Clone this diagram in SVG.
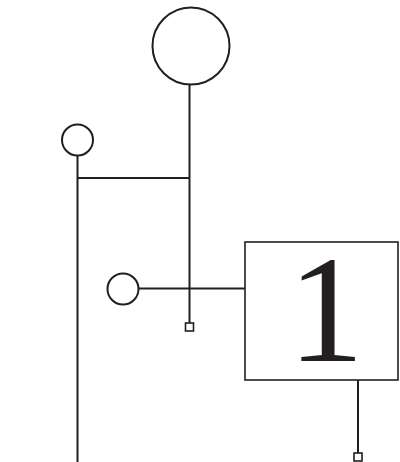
<svg xmlns="http://www.w3.org/2000/svg" width="400" height="462" viewBox="0 0 400 462">
<style>
.s{fill:none;stroke:#231f20;stroke-width:2}
.r{fill:#fff;stroke:#231f20;stroke-width:1.6}
.t{font-family:"Liberation Serif",serif;font-size:152px;fill:#231f20;text-anchor:middle}
</style>
<rect width="400" height="462" fill="#fff"/>
<g id="connectors">
<line class="s" x1="189.5" y1="84" x2="189.5" y2="323"/>
<line class="s" x1="77.5" y1="155.5" x2="77.5" y2="462"/>
<line class="s" x1="77.5" y1="178" x2="189.5" y2="178"/>
<line class="s" x1="138.5" y1="288.5" x2="245" y2="288.5"/>
<line class="s" x1="358" y1="380" x2="358" y2="453"/>
</g>
<g id="big-circle"><circle class="s" cx="191" cy="46" r="38.5"/></g>
<g id="small-circle-top"><circle class="s" cx="77.5" cy="140" r="15.5"/></g>
<g id="small-circle-mid"><circle class="s" cx="123" cy="289" r="15.5"/></g>
<g id="end-square-1"><rect class="r" x="185.5" y="323" width="8" height="8"/></g>
<g id="end-square-2"><rect class="r" x="354" y="453" width="8" height="8"/></g>
<g id="box-1">
<rect class="r" x="245" y="242" width="153" height="138"/>
<text class="t" x="326" y="361">1</text>
</g>
</svg>
